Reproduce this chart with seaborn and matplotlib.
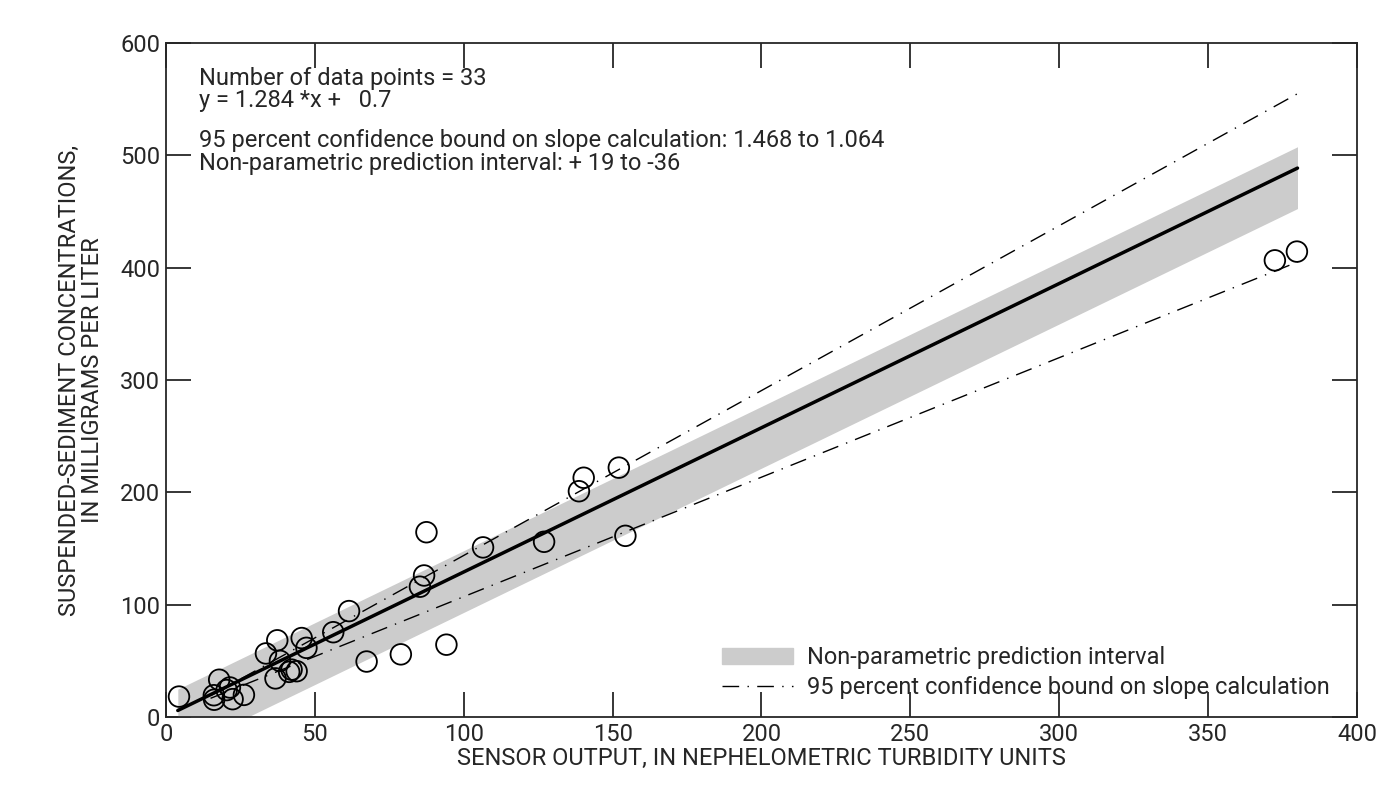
import numpy as np
import pandas as pd
import seaborn as sns
import matplotlib.pyplot as plt
from matplotlib.patches import Patch
from matplotlib.lines import Line2D

# Datos
turbidez = [4.4, 16.1, 17.9, 16.2, 20.4, 21.5, 22.4, 26.2, 33.6, 37.4, 38.3, 36.8,
            41.4, 42.2, 43.9, 45.6, 47.2, 56.2, 61.5, 67.4, 78.9, 85.3, 86.7, 87.5,
            94.2, 106.5, 127.0, 140.3, 138.7, 152.1, 154.3, 372.4, 379.8]
sedimento = [18.2, 19.4, 33.2, 15.4, 24.0, 26.3, 15.9, 19.7, 56.6, 68.3, 50.0, 34.4,
             40.2, 42.2, 40.8, 70.3, 61.6, 75.5, 94.3, 49.4, 55.8, 116.0, 126.0, 164.5,
             64.4, 151.0, 156.0, 213.0, 201.0, 222.0, 161.3, 406.5, 414.3]
pendiente, intercepto = 1.284, 0.7
pend_sup, pend_inf = 1.468, 1.064
int_sup, int_inf = -3.0, 0.7
pi_sup, pi_inf = 19, -36

df = pd.DataFrame({'x': turbidez, 'y': sedimento})

sns.set_style('ticks')
plt.rcParams['font.family'] = ['Roboto', 'DejaVu Sans']
fs = 17

fig = plt.figure(figsize=(13.94, 7.93), dpi=100)
ax = fig.add_axes([0.119, 0.0958, 0.8545, 0.85])

xl = np.linspace(4, 380, 200)
yl = pendiente * xl + intercepto
ax.fill_between(xl, np.clip(yl + pi_inf, 0, None), yl + pi_sup, color='#cccccc', lw=0, zorder=1)
xc = np.linspace(15, 380, 100)
ax.plot(xc, pend_sup * xc + int_sup, color='black', lw=1, ls=(0, (12, 6, 1, 6)), zorder=2)
ax.plot(xc, pend_inf * xc + int_inf, color='black', lw=1, ls=(0, (12, 6, 1, 6)), zorder=2)
ax.plot(xl, yl, color='black', lw=2.5, zorder=3)
sns.scatterplot(data=df, x='x', y='y', ax=ax, marker='o', s=220, facecolor='none',
                edgecolor='black', linewidth=1.3, zorder=4)

ax.set_xlim(0, 400)
ax.set_ylim(0, 600)
ax.set_xticks(range(0, 401, 50))
ax.set_yticks(range(0, 601, 100))
ax.tick_params(direction='in', length=18, width=1.3, labelsize=fs, top=True, right=True, pad=4)
for s in ax.spines.values():
    s.set_linewidth(1.3)
ax.set_xlabel('SENSOR OUTPUT, IN NEPHELOMETRIC TURBIDITY UNITS', fontsize=fs, labelpad=1)
ax.set_ylabel('SUSPENDED-SEDIMENT CONCENTRATIONS,\nIN MILLIGRAMS PER LITER', fontsize=fs,
              labelpad=12, linespacing=1.0)

textos = ['Number of data points = 33', 'y = 1.284 *x +   0.7',
          '95 percent confidence bound on slope calculation: 1.468 to 1.064',
          'Non-parametric prediction interval: + 19 to -36']
filas = [0.948, 0.915, 0.855, 0.821]
for t, f in zip(textos, filas):
    ax.text(0.028, f, t, transform=ax.transAxes, fontsize=fs, va='center')

handles = [Patch(color='#cccccc'), Line2D([], [], color='black', lw=1, ls=(0, (12, 6, 1, 6)))]
ax.legend(handles, ['Non-parametric prediction interval',
                    '95 percent confidence bound on slope calculation'],
          loc='lower right', bbox_to_anchor=(0.995, -0.005), frameon=False, fontsize=fs,
          handlelength=3.0, handletextpad=0.6, labelspacing=0.3)

fig.savefig('out.png', dpi=100)
